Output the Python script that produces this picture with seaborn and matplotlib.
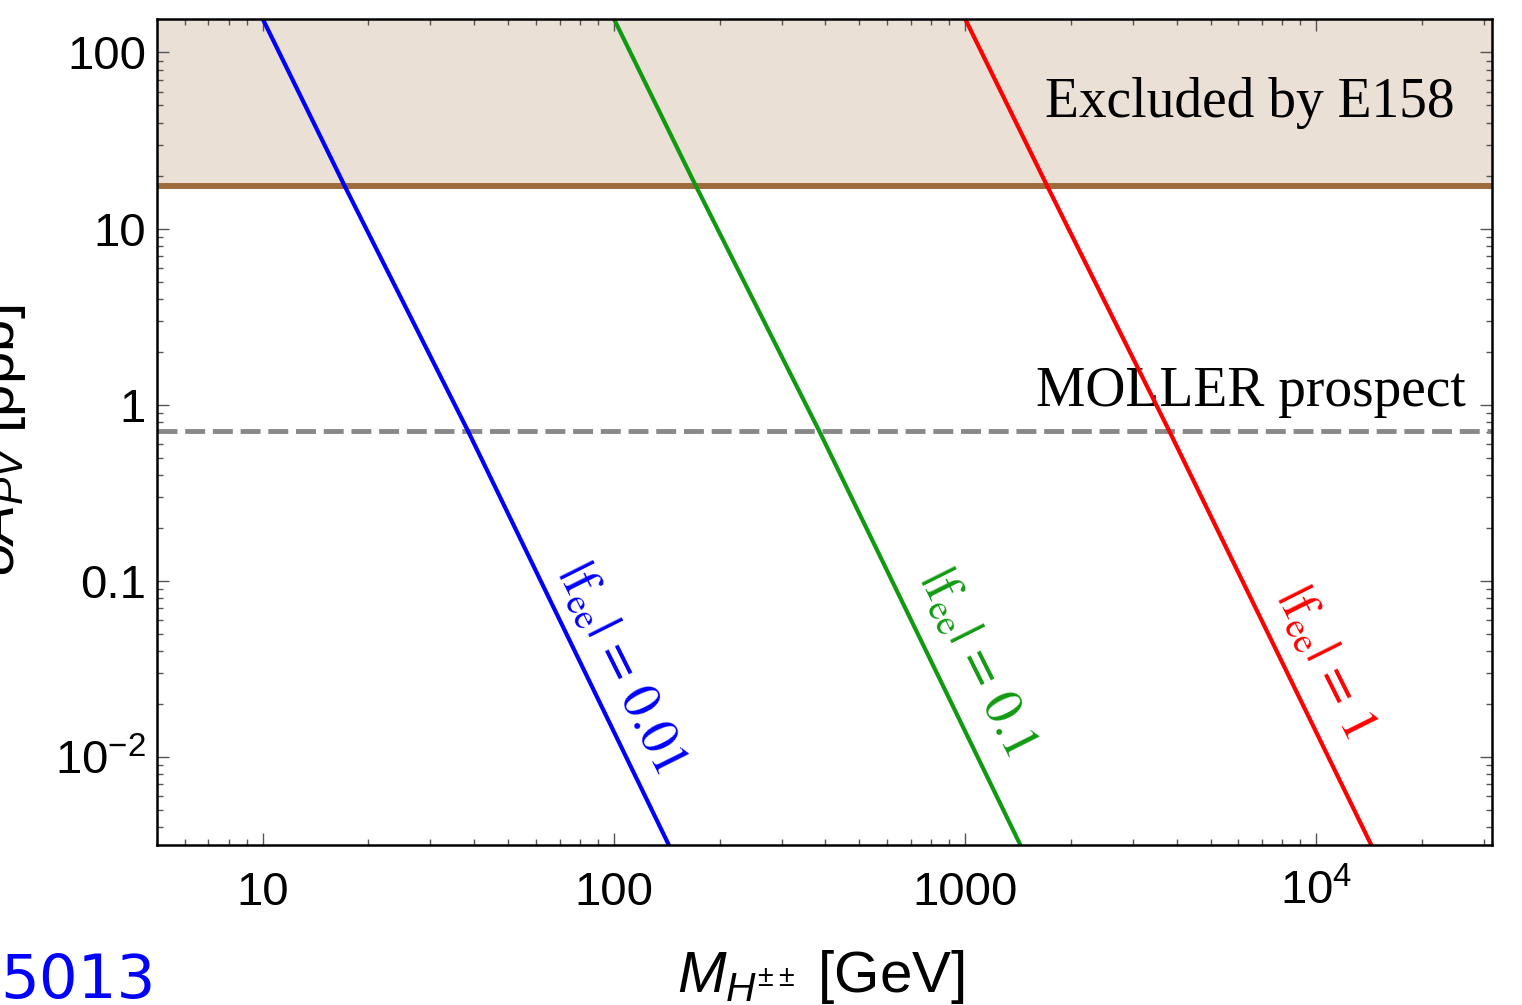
import numpy as np
import pandas as pd
import seaborn as sns
import matplotlib
matplotlib.use("Agg")
import matplotlib.pyplot as plt
from matplotlib.ticker import FixedLocator, LogLocator, NullFormatter, FixedFormatter

# ---------------- data ----------------
couplings = ["|f_ee| = 0.01", "|f_ee| = 0.1", "|f_ee| = 1"]
mass_001 = [10, 17.1, 38.4, 144]
mass_01 = [100, 171, 384, 1443]
mass_1 = [1000, 1711, 3810, 14400]
dapv_001 = [155, 17.5, 0.71, 0.0031]
dapv_01 = [155, 17.5, 0.71, 0.0031]
dapv_1 = [155, 17.5, 0.71, 0.0031]

e158_bound = 17.5
moller_prospect = 0.71

x_ticks = [10, 100, 1000, 10000]
x_ticklabels = ["10", "100", "1000", r"$\mathdefault{10^{4}}$"]
y_ticks = [0.01, 0.1, 1, 10, 100]
y_ticklabels = [r"$\mathdefault{10^{-2}}$", "0.1", "1", "10", "100"]

label_pos_m = [104.5, 1075, 10600]
label_pos_y = [0.0321, 0.0347, 0.0345]
label_texts = [r"$|\mathrm{f}_{\mathrm{ee}}|\,=\,0.01$",
               r"$|\mathrm{f}_{\mathrm{ee}}|\,=\,0.1$",
               r"$|\mathrm{f}_{\mathrm{ee}}|\,=\,1$"]

colors = {"|f_ee| = 0.01": "#0000FF", "|f_ee| = 0.1": "#119A11", "|f_ee| = 1": "#FF0000"}

df = pd.DataFrame({
    "M": mass_001 + mass_01 + mass_1,
    "dAPV": dapv_001 + dapv_01 + dapv_1,
    "coupling": [couplings[0]] * len(mass_001) + [couplings[1]] * len(mass_01)
                + [couplings[2]] * len(mass_1),
})

# ---------------- style ----------------
sns.set_theme(style="white")
plt.rcParams["font.family"] = ["Liberation Sans", "DejaVu Sans"]
plt.rcParams["mathtext.fontset"] = "custom"
plt.rcParams["mathtext.rm"] = "Liberation Sans"
plt.rcParams["mathtext.it"] = "Liberation Sans:italic"
plt.rcParams["mathtext.bf"] = "Liberation Sans:bold"
plt.rcParams["text.color"] = "black"
plt.rcParams["axes.labelcolor"] = "black"
plt.rcParams["xtick.labelcolor"] = "black"
plt.rcParams["ytick.labelcolor"] = "black"

fig = plt.figure(figsize=(15.22, 10.05), dpi=100)
ax = fig.add_axes([157 / 1522, 1 - 845 / 1005, (1492 - 157) / 1522, (845 - 19) / 1005])

ax.axhspan(e158_bound, 1e4, color="#EAE0D6", zorder=0, lw=0)
ax.axhline(e158_bound, color="#9E6B3C", lw=4.3, zorder=2)
ax.axhline(moller_prospect, color="#888888", lw=3.5, dashes=(4.1, 1.6), zorder=2)

sns.lineplot(data=df, x="M", y="dAPV", hue="coupling", palette=colors,
             estimator=None, sort=False, lw=3.0, legend=False, ax=ax, zorder=3)

ax.set_xscale("log")
ax.set_yscale("log")
ax.set_xlim(5.0, 10 ** 4.5)
ax.set_ylim(10 ** -2.5, 10 ** 2.19)

ax.xaxis.set_major_locator(FixedLocator(x_ticks))
ax.xaxis.set_major_formatter(FixedFormatter(x_ticklabels))
ax.yaxis.set_major_locator(FixedLocator(y_ticks))
ax.yaxis.set_major_formatter(FixedFormatter(y_ticklabels))
ax.xaxis.set_minor_locator(LogLocator(base=10, subs=np.arange(2, 10), numticks=20))
ax.yaxis.set_minor_locator(LogLocator(base=10, subs=np.arange(2, 10), numticks=20))
ax.xaxis.set_minor_formatter(NullFormatter())
ax.yaxis.set_minor_formatter(NullFormatter())

ax.tick_params(which="both", direction="in", top=True, right=True,
               bottom=True, left=True, color="#555555", width=1.0,
               labelcolor="black")
ax.tick_params(which="major", length=8.5)
ax.tick_params(which="minor", length=4.2)
ax.tick_params(axis="y", which="major", labelsize=34, pad=8)
ax.tick_params(axis="x", which="major", labelsize=34, pad=43)
for lbl in ax.get_xticklabels():
    lbl.set_verticalalignment("baseline")

for sp in ax.spines.values():
    sp.set_color("black")
    sp.set_linewidth(1.8)
    sp.set_zorder(5)

ax.set_xlabel(r"$M_{H^{\pm\pm}}$ [GeV]", fontsize=42, color="black")
ax.xaxis.set_label_coords(0.497, -0.125)
ax.xaxis.label.set_verticalalignment("top")
ax.set_ylabel(r"$\delta A_{PV}$ [ppb]", fontsize=42, color="black")
ax.yaxis.set_label_coords(-0.097, 0.49)

serif = ["Liberation Serif", "DejaVu Serif"]
ax.text(0.972, 0.898, "Excluded by E158", transform=ax.transAxes, ha="right",
        va="center", fontsize=40, family=serif, color="black", zorder=4)
ax.text(0.980, 0.548, "MOLLER prospect", transform=ax.transAxes, ha="right",
        va="center", fontsize=40, family=serif, color="black", zorder=2.5)

for m, y, t, c in zip(label_pos_m, label_pos_y, label_texts, couplings):
    ax.text(m, y, t, rotation=-63.5, rotation_mode="anchor", ha="center",
            va="center", fontsize=38, color=colors[c], math_fontfamily="stix",
            zorder=4)

fig.text(0.0, 0.007, "5013", color="#0000FF", fontsize=44,
         family=["DejaVu Sans"], ha="left", va="baseline")

fig.savefig("out.png", dpi=100)
